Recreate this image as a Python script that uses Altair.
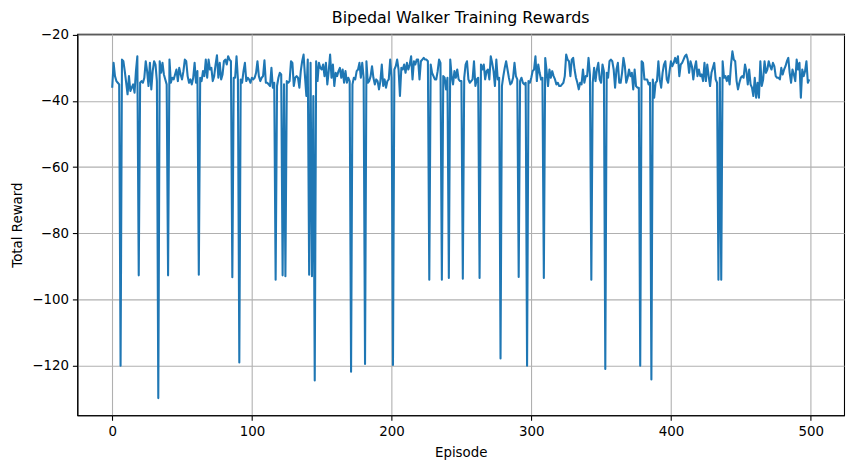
import altair as alt
import pandas as pd

# Rewards, episodes 0..499 in blocks of 100
rewards_000 = [
    -36, -28.5, -32.5, -34, -34.5, -35, -120, -27.5, -28, -31,
    -34.5, -38, -32.5, -37, -36, -35, -37.5, -31, -26.5, -92.7,
    -34.5, -34, -34.5, -33, -28, -31, -35.5, -28.5, -36.5, -31,
    -28, -29, -34, -129.8, -28, -31.5, -28.5, -32, -33.5, -35,
    -92.7, -27.5, -34.5, -33, -33.5, -32, -30.5, -34, -30, -32,
    -33.5, -31, -27.5, -28, -32.5, -34.5, -33.5, -35, -33, -28.5,
    -34.5, -31, -92.5, -33, -34, -31, -32.5, -27.5, -33, -27.5,
    -30.5, -30, -34, -32.5, -29, -26.2, -33, -28.5, -33.5, -32,
    -28, -27.5, -29, -26.5, -27.5, -28, -93.3, -33, -33, -26.5,
    -33.5, -119, -33.5, -34.5, -31, -28.5, -34, -33, -33.5, -34.5,
]
rewards_100 = [
    -33, -33.5, -33, -31.5, -28, -32.5, -34, -33, -32.5, -27.7,
    -34.5, -34.5, -35, -35.5, -30, -36, -34.5, -94, -35.5, -33,
    -31.5, -32, -92.7, -35, -93, -34, -34.5, -34, -28, -28.5,
    -35.5, -33, -32.5, -33, -36, -31, -28, -26, -32.5, -38.5,
    -27.5, -92.5, -28.5, -93, -38.5, -124.5, -28, -34, -28.5, -30,
    -30.5, -29, -32.5, -28.5, -35, -31, -26, -33, -29, -35.5,
    -31.5, -32.5, -31, -30, -33, -30.5, -34.5, -31, -34.5, -33,
    -34, -121.8, -35, -33, -33.5, -31, -30.5, -28.5, -33, -28.5,
    -33, -119.5, -28, -34.5, -34, -32.5, -29.5, -33, -35, -33.5,
    -34, -36.5, -34, -29, -35.5, -33.5, -36, -34, -33.5, -27.5,
]
rewards_200 = [
    -33, -119.8, -30.5, -29.5, -27.5, -30.5, -38.5, -30, -30.5, -29,
    -31.5, -28.5, -30.5, -29, -26.5, -33.5, -28, -29, -27.5, -27.5,
    -33.5, -28, -27.5, -27, -27.5, -27.5, -28, -94, -29, -31.5,
    -32.5, -33.5, -33.5, -31, -27.5, -28.5, -94, -32.5, -33, -36.5,
    -33, -93.5, -27.5, -32.5, -35, -31, -33, -30.5, -33.5, -34,
    -34, -93.7, -33, -29, -28, -33.5, -34.5, -34, -33.5, -28,
    -35.5, -33.5, -33, -93.5, -29, -30.5, -29, -33.5, -31, -30.5,
    -33.5, -26.5, -28.5, -31, -35.5, -27.5, -33.5, -33, -117.8, -35.5,
    -32.5, -30, -28, -30.5, -33, -35, -34.5, -33, -28.5, -32.5,
    -33.5, -93.2, -34, -33, -34.5, -35, -34.5, -120, -34, -34.5,
]
rewards_300 = [
    -33, -31, -30.5, -26.5, -34, -29, -31.5, -33.5, -33, -93.5,
    -27, -31, -35.5, -30.5, -33, -31, -32.5, -33.5, -35, -34.5,
    -35.5, -35.5, -35, -34.5, -32.5, -26, -27.5, -28, -32.5, -27.5,
    -27, -30.5, -33, -34.5, -36.5, -34.5, -35, -30.5, -34.5, -32.5,
    -32.5, -27, -32, -94, -34.5, -30, -34, -30.5, -28.5, -33.5,
    -34.5, -29, -31, -121, -31.5, -33, -28, -27.5, -28, -30.5,
    -36, -30.5, -28.5, -34.5, -34.5, -31.5, -27, -29.5, -34.5, -33,
    -30.5, -32.5, -31.5, -36.5, -30.5, -35.5, -36, -36, -120, -28,
    -28.5, -33.5, -33.5, -33.5, -35, -34.5, -124.2, -33.5, -39, -34.5,
    -34, -28, -33.5, -36, -31.5, -29, -28, -33.5, -34.5, -31,
]
rewards_400 = [
    -28, -29.5, -28.5, -27, -28.5, -26.5, -32.5, -29, -28.5, -27.5,
    -26.5, -26, -27.5, -31.5, -28, -29.5, -33.5, -30, -28, -32.5,
    -30.5, -32.5, -32, -34, -28.5, -34, -29, -32.5, -35.5, -31.5,
    -30, -28.5, -33.5, -34.5, -94, -33, -94, -28, -33, -32.5,
    -34, -32.5, -35, -29, -25, -27.5, -28, -34, -36.5, -34.5,
    -33, -32.5, -33, -29, -31, -35, -30.5, -35, -36, -38.5,
    -33, -39, -34.5, -39, -28, -35.5, -33.5, -28, -31.5, -30.5,
    -28, -29.5, -30.5, -28.5, -29.5, -32.5, -33, -33, -33.5, -30,
    -32, -30.5, -29.5, -28, -27, -31.5, -34.5, -30.5, -32, -34,
    -27.5, -30.5, -28.5, -39, -30.5, -32.5, -31, -28, -34.5, -33.5,
]

rewards = rewards_000 + rewards_100 + rewards_200 + rewards_300 + rewards_400
episodes = list(range(len(rewards)))

x_ticks = [0, 100, 200, 300, 400, 500]
y_ticks = [-120, -100, -80, -60, -40, -20]

df = pd.DataFrame({"Episode": episodes, "Total Reward": rewards})

FONT = "DejaVu Sans"

chart = (
    alt.Chart(df)
    .mark_line(color="#1f77b4", strokeWidth=2.1, strokeJoin="round")
    .encode(
        x=alt.X(
            "Episode:Q",
            scale=alt.Scale(domain=[-24.95, 523.95], nice=False, zero=False),
            axis=alt.Axis(values=x_ticks, title="Episode", format="d", titlePadding=8),
        ),
        y=alt.Y(
            "Total Reward:Q",
            scale=alt.Scale(domain=[-135.0, -19.75], nice=False, zero=False),
            axis=alt.Axis(values=y_ticks, title="Total Reward", format="d", titlePadding=7),
        ),
    )
    .properties(
        width=774,
        height=385,
        title=alt.TitleParams(
            "Bipedal Walker Training Rewards",
            font=FONT,
            fontSize=16,
            fontWeight="normal",
            color="black",
            anchor="middle",
            frame="group",
            offset=2,
        ),
        autosize=alt.AutoSizeParams(type="none"),
        padding={"left": 70, "top": 24, "right": 10, "bottom": 50},
    )
    .configure_view(stroke="black", strokeWidth=1.1)
    .configure_axis(
        grid=True,
        gridColor="#b0b0b0",
        gridWidth=1.1,
        domainColor="black",
        domainWidth=1.1,
        tickColor="black",
        tickWidth=1.1,
        tickSize=5,
        labelPadding=4,
        labelFont=FONT,
        labelFontSize=13.5,
        labelColor="black",
        titleFont=FONT,
        titleFontSize=13.5,
        titleFontWeight="normal",
        titleColor="black",
    )
)

chart.save("out.html", embed_options={"renderer": "svg", "actions": False})
